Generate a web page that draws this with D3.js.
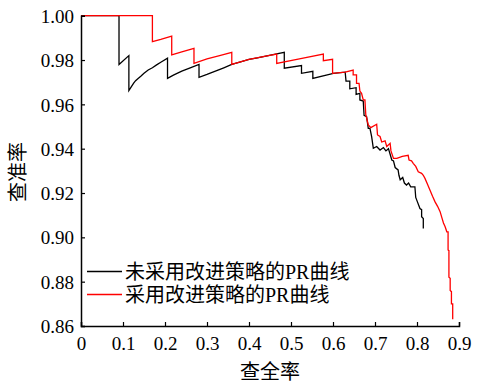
<!DOCTYPE html>
<html><head><meta charset="utf-8">
<script src="https://cdn.jsdelivr.net/npm/d3@7"></script>
<style>body{margin:0;background:#fff}svg{display:block}</style>
</head><body>
<script>
const xTicks = [0,0.1,0.2,0.3,0.4,0.5,0.6,0.7,0.8,0.9];
const yTicks = [0.86,0.88,0.90,0.92,0.94,0.96,0.98,1.00];
const seriesNames = ["未采用改进策略的PR曲线","采用改进策略的PR曲线"];
const seriesColors = ["#000000","#ff0000"];
const xTitle = "查全率", yTitle = "查准率";

const recallBase = [0,0.0905,0.0905,0.114,0.114,0.12,0.125,0.13,0.136,0.143,0.15,0.16,0.17,0.18,0.19,0.206,0.206,0.22,0.24,0.26,0.281,0.281,0.30,0.32,0.34,0.359,0.38,0.40,0.42,0.44,0.46,0.484,0.484,0.525,0.525,0.552,0.552,0.601,0.629,0.631,0.640,0.640,0.655,0.655,0.664,0.664,0.672,0.674,0.680,0.684,0.688,0.692,0.696,0.704,0.712,0.720,0.726,0.732,0.736,0.740,0.744,0.748,0.755,0.757,0.760,0.766,0.770,0.775,0.780,0.785,0.795,0.797,0.801,0.805,0.807,0.811,0.811,0.815,0.815];
const precisionBase = [1,1,0.978,0.982,0.9662,0.968,0.9695,0.9707,0.9717,0.9728,0.974,0.9755,0.9765,0.9778,0.979,0.9808,0.9717,0.9732,0.975,0.9765,0.978,0.9722,0.9735,0.975,0.9765,0.978,0.9792,0.9803,0.981,0.9818,0.9826,0.9835,0.9763,0.9775,0.974,0.9749,0.9717,0.974,0.9745,0.9705,0.9705,0.967,0.9675,0.9645,0.965,0.962,0.9615,0.955,0.9544,0.9492,0.9492,0.9454,0.9402,0.941,0.9394,0.9405,0.939,0.940,0.9375,0.9349,0.9345,0.9315,0.9304,0.928,0.926,0.927,0.9245,0.9236,0.9245,0.9228,0.9228,0.918,0.916,0.914,0.913,0.9125,0.9093,0.9085,0.904];

const recallImproved = [0,0.17,0.17,0.19,0.216,0.216,0.24,0.269,0.269,0.30,0.33,0.359,0.359,0.40,0.44,0.466,0.466,0.52,0.577,0.577,0.599,0.599,0.629,0.648,0.648,0.656,0.656,0.662,0.664,0.668,0.672,0.676,0.678,0.684,0.690,0.704,0.706,0.712,0.716,0.724,0.728,0.736,0.738,0.744,0.752,0.765,0.779,0.781,0.787,0.791,0.797,0.803,0.811,0.815,0.819,0.825,0.831,0.837,0.843,0.849,0.855,0.859,0.863,0.867,0.871,0.874,0.874,0.876,0.876,0.879,0.879,0.882,0.882,0.885,0.885];
const precisionImproved = [1,1,0.9883,0.9893,0.9908,0.9823,0.9837,0.9853,0.9785,0.9805,0.982,0.9835,0.978,0.9803,0.9818,0.9827,0.9785,0.9805,0.9827,0.9797,0.9803,0.974,0.9745,0.9755,0.9733,0.9733,0.9695,0.9695,0.966,0.965,0.962,0.962,0.9555,0.9507,0.9495,0.951,0.9462,0.9455,0.943,0.9435,0.941,0.9424,0.939,0.9356,0.9356,0.9365,0.937,0.9349,0.9345,0.9334,0.932,0.9296,0.9289,0.928,0.9266,0.924,0.9213,0.9185,0.916,0.914,0.9116,0.909,0.9065,0.9048,0.9025,0.9025,0.8943,0.894,0.882,0.8815,0.876,0.8755,0.870,0.870,0.863];

const W = 477, H = 383;
const m = {left:81, right:459, top:15.7, bottom:326};
const x = d3.scaleLinear().domain([0,0.9]).range([m.left, m.right]);
const y = d3.scaleLinear().domain([0.86,1.00]).range([m.bottom, m.top]);

const SERIF = "Liberation Serif, DejaVu Serif, Times New Roman, serif";
const CJK = "Liberation Serif, DejaVu Serif, Noto Sans CJK SC, serif";

const svg = d3.select("body").append("svg").attr("width",W).attr("height",H)
  .attr("font-family", SERIF);

const series = [
  {name:seriesNames[0], color:seriesColors[0], r:recallBase, p:precisionBase},
  {name:seriesNames[1], color:seriesColors[1], r:recallImproved, p:precisionImproved}
];
const line = d3.line().x(d=>x(d[0])).y(d=>y(d[1]));
series.forEach(s=>{
  svg.append("path").datum(s.r.map((v,i)=>[v,s.p[i]]))
    .attr("d",line).attr("fill","none").attr("stroke",s.color).attr("stroke-width",1.3);
});

// axes
const xAxis = d3.axisBottom(x).tickValues(xTicks).tickSize(-4).tickPadding(8)
  .tickFormat(d=>d===0?"0":d3.format(".1f")(d));
const gx = svg.append("g").attr("transform",`translate(0,${m.bottom})`).call(xAxis);
const yAxis = d3.axisLeft(y).tickValues(yTicks).tickSize(-4).tickPadding(8).tickFormat(d3.format(".2f"));
const gy = svg.append("g").attr("transform",`translate(${m.left},0)`).call(yAxis);
[gx,gy].forEach(g=>{
  g.attr("font-family", SERIF).attr("font-size", 19);
  g.select(".domain").attr("stroke","#000").attr("stroke-width",1.5);
  g.selectAll(".tick line").attr("stroke","#000").attr("stroke-width",1.2);
  g.selectAll(".tick text").attr("fill","#000").attr("font-family", SERIF).attr("font-size",19);
});
gx.selectAll(".tick text").attr("dy","0.71em").attr("y",11);
gy.selectAll(".tick text").attr("x",-7).attr("dy","0.35em");

// titles
svg.append("text").attr("font-family",CJK).attr("x",270).attr("y",379).attr("text-anchor","middle")
  .attr("font-size",20).attr("fill","#000").text(xTitle);
svg.append("text").attr("font-family",CJK).attr("transform","translate(25,172) rotate(-90)").attr("text-anchor","middle")
  .attr("font-size",20).attr("fill","#000").text(yTitle);

// legend
const lg = svg.append("g");
series.forEach((s,i)=>{
  const ly = 271.5 + i*23;
  lg.append("line").attr("x1",87).attr("x2",122).attr("y1",ly).attr("y2",ly)
    .attr("stroke",s.color).attr("stroke-width",1.3);
  lg.append("text").attr("font-family",CJK).attr("x",125).attr("y",ly+7)
    .attr("font-size",20).attr("fill","#000").text(s.name);
});
</script>
</body></html>
